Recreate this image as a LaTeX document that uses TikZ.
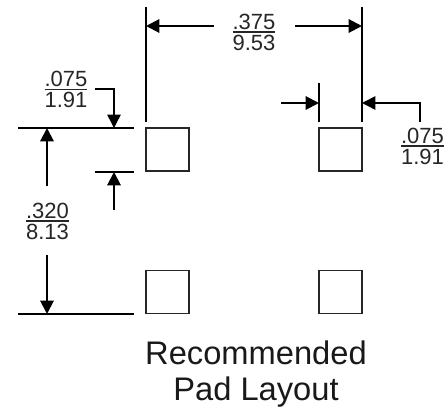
\documentclass[tikz,border=0pt]{standalone}
\usepackage{fontspec}
\setmainfont{Liberation Sans}
\usetikzlibrary{arrows.meta}

% stacked inch / mm value with a rule between
\newcommand{\dimfrac}[2]{\vbox{\offinterlineskip\halign{\hfil##\hfil\cr #1\cr\noalign{\kern1.6pt\hrule height 0.8pt\kern1.6pt}#2\cr}}}

\tikzset{every picture/.style={line width=0.75pt}}
\tikzset{
	padbox/.style={draw=black!85,line width=1.1pt,minimum width=32.5pt,minimum height=32.5pt,inner sep=0pt},
	extline/.style={line width=1.5pt},
	dimline/.style={line width=1.5pt,-{Triangle[length=10pt,width=10pt]}},
	leaderline/.style={line width=1.1pt,-{Triangle[length=10pt,width=10pt]}},
	dimtext/.style={align=center,inner sep=0pt,font=\fontsize{16.5}{18}\selectfont,text=black!85},
	titletext/.style={align=center,inner sep=0pt,font=\fontsize{24.5}{27}\selectfont,text=black!90}
}

\begin{document}
\begin{tikzpicture}[x=0.75pt,y=0.75pt,yscale=-1,xscale=1]
	\useasboundingbox (0,0) rectangle (444,409);
	
	%Pads
	\node [padbox] (padTL) at (167.5,149.5) {};
	\node [padbox] (padTR) at (340.5,149.5) {};
	\node [padbox] (padBL) at (167.5,292) {};
	\node [padbox] (padBR) at (340.5,292) {};
	
	% Text Node
	\node [dimtext] (widthText) at (254,32) {\dimfrac{.375}{9.53}};
	\node [dimtext] (padLeftText) at (66,89.5) {\dimfrac{.075}{1.91}};
	\node [dimtext] (padRightText) at (422.5,146) {\dimfrac{.075}{1.91}};
	\node [dimtext] (heightText) at (47.5,221) {\dimfrac{.320}{8.13}};
	\node [titletext] (titleText) at (256,374) {Recommended\\Pad Layout};
	
	%Extension line ends
	\coordinate (extATop) at (146,7);
	\coordinate (extABot) at (146,122);
	\coordinate (extBTop) at (362,7);
	\coordinate (extBBot) at (362,122);
	\coordinate (extCTop) at (319,83);
	\coordinate (extCBot) at (319,122);
	\coordinate (extDLeft) at (18,128);
	\coordinate (extDRight) at (134,128);
	\coordinate (extELeft) at (95,172);
	\coordinate (extERight) at (134,172);
	\coordinate (extFLeft) at (18,314);
	\coordinate (extFRight) at (134,314);
	
	%Straight Lines
	\draw [extline] (extATop) -- (extABot);
	\draw [extline] (extBTop) -- (extBBot);
	\draw [extline] (extCTop) -- (extCBot);
	\draw [extline] (extDLeft) -- (extDRight);
	\draw [extline] (extELeft) -- (extERight);
	\draw [extline] (extFLeft) -- (extFRight);
	
	%Arrow ends
	\coordinate (widthA) at (214,26);
	\coordinate (widthAEnd) at (146,26);
	\coordinate (widthB) at (295,26);
	\coordinate (widthBEnd) at (362,26);
	\coordinate (leftStart) at (95,89);
	\coordinate (leftBend) at (114,89);
	\coordinate (leftEnd) at (114,128);
	\coordinate (leftUp) at (114,210);
	\coordinate (leftUpEnd) at (114,172);
	\coordinate (heightA) at (47,186);
	\coordinate (heightAEnd) at (47,128);
	\coordinate (heightB) at (47,255);
	\coordinate (heightBEnd) at (47,314);
	\coordinate (rightIn) at (281,103);
	\coordinate (rightInEnd) at (319,103);
	\coordinate (rightStart) at (420,122);
	\coordinate (rightBend) at (420,103);
	\coordinate (rightEnd) at (362,103);
	
	%Arrows
	\draw [dimline] (widthA) -- (widthAEnd);
	\draw [dimline] (widthB) -- (widthBEnd);
	\draw [leaderline] (leftStart) -- (leftBend) -- (leftEnd);
	\draw [dimline] (leftUp) -- (leftUpEnd);
	\draw [dimline] (heightA) -- (heightAEnd);
	\draw [dimline] (heightB) -- (heightBEnd);
	\draw [dimline] (rightIn) -- (rightInEnd);
	\draw [leaderline] (rightStart) -- (rightBend) -- (rightEnd);
	
\end{tikzpicture}
\end{document}
